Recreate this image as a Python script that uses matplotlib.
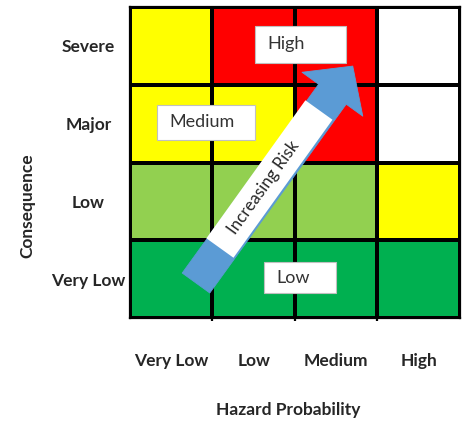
import numpy as np
import matplotlib
matplotlib.use("Agg")
import matplotlib.pyplot as plt
from matplotlib.colors import ListedColormap
from matplotlib.patches import Rectangle, FancyArrowPatch

# *** data ***
probability = ["Very Low", "Low", "Medium", "High"]
consequence = ["Very Low", "Low", "Major", "Severe"]   # bottom -> top

# colour code per cell: 0 white, 1 dark green, 2 light green, 3 yellow, 4 red
risk_grid = np.array([
    [1, 1, 1, 1],   # Very Low
    [2, 2, 2, 3],   # Low
    [3, 3, 4, 0],   # Major
    [3, 4, 4, 0],   # Severe
])
cell_colors = ["#FFFFFF", "#00B050", "#92D050", "#FFFF00", "#FF0000"]

# zone labels: text, (x0, y0, x1, y1) of the white box in cell units
zones = [
    ("High", (1.52, 3.28, 2.62, 3.76)),
    ("Medium", (0.33, 2.29, 1.52, 2.74)),
    ("Low", (1.62, 0.32, 2.50, 0.72)),
]

plt.rcParams['font.family'] = ['Lato', 'DejaVu Sans']

fig = plt.figure(figsize=(4.64, 4.22), dpi=100)
ax = fig.add_axes([130 / 464, 1 - 318 / 422, 330 / 464, 311 / 422])

cmap = ListedColormap(cell_colors)
ax.pcolormesh(np.arange(5), np.arange(5), risk_grid, cmap=cmap, vmin=-0.5, vmax=4.5,
              edgecolors="black", linewidth=1.6)
ax.set_xlim(0, 4)
ax.set_ylim(0, 4)

for s in ax.spines.values():
    s.set_linewidth(1.6)

# zone boxes
for name, (x0, y0, x1, y1) in zones:
    ax.add_patch(Rectangle((x0, y0), x1 - x0, y1 - y0, facecolor="white",
                           edgecolor="#c0c0c0", lw=0.8, zorder=3))
    ax.text(x0 + 0.15, (y0 + y1) / 2, name, ha="left", va="center",
            fontsize=13, color="#333333", zorder=4)

# increasing risk arrow
tail = (0.80, 0.45)
tip = (2.70, 3.24)
arrow = FancyArrowPatch(tail, tip, arrowstyle="simple,head_length=25,head_width=54,tail_width=24.5",
                        mutation_scale=1, shrinkA=0, shrinkB=0,
                        facecolor="#5B9BD5", edgecolor="#5B9BD5", lw=0.6, zorder=5)
ax.add_patch(arrow)

band = np.array([[1.09, 0.90], [2.29, 2.675]])
ax.plot(band[:, 0], band[:, 1], color="white", lw=24, solid_capstyle="butt", zorder=6)

p = ax.transData.transform(band)
angle = np.degrees(np.arctan2(p[1, 1] - p[0, 1], p[1, 0] - p[0, 0]))
mid = band[0] + 0.44 * (band[1] - band[0])
ax.text(mid[0], mid[1], "Increasing Risk", rotation=angle, rotation_mode="anchor",
        ha="center", va="center", fontsize=12.2, color="#262626", zorder=7)

# axes labels
ax.set_xticks(np.arange(4) + 0.5)
ax.set_xticklabels(probability, fontweight="bold", fontsize=12.5, color="#262626")
ax.set_yticks(np.arange(4) + 0.5)
ax.set_yticklabels(consequence, fontweight="bold", fontsize=12.5, color="#262626")
ax.tick_params(axis="x", length=0, pad=25)
ax.tick_params(axis="y", length=0, pad=30)
for lab in ax.get_yticklabels():
    lab.set_horizontalalignment("center")
ax.set_xticks([1, 2, 3], minor=True)
ax.tick_params(axis="x", which="minor", length=2, width=1.6, direction="out")

ax.set_xlabel("Hazard Probability", fontweight="bold", fontsize=12.5, color="#262626")
ax.xaxis.set_label_coords(0.48, -0.27)
ax.set_ylabel("Consequence", fontweight="bold", fontsize=12.5, color="#262626")
ax.yaxis.label.set_va("center")
ax.yaxis.set_label_coords(-0.31, 0.36)

fig.savefig("out.png", dpi=100)
